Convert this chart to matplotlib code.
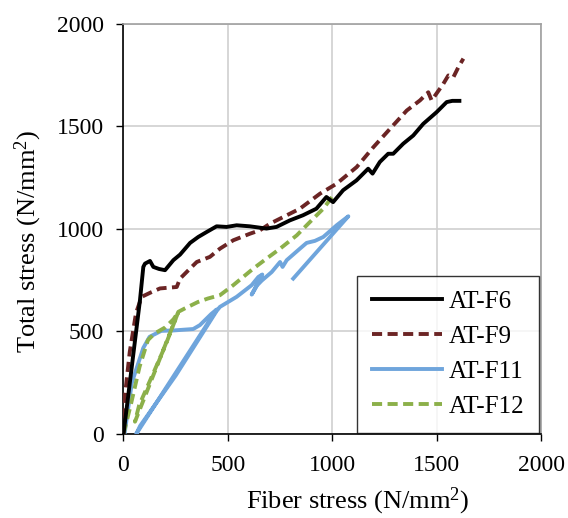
import matplotlib as mpl
import matplotlib.pyplot as plt

# values
f6_x = [0, 40, 79, 95, 103, 127, 143, 170, 199, 239, 271, 319, 358, 398, 446,
        494, 542, 605, 685, 733, 797, 860, 924, 972, 1004, 1052, 1116, 1172,
        1193, 1228, 1268, 1292, 1340, 1388, 1436, 1500, 1548, 1575, 1609]
f6_y = [0, 330, 653, 815, 831, 844, 815, 805, 799, 848, 875, 932, 961, 985, 1013,
        1010, 1018, 1013, 1002, 1010, 1042, 1067, 1099, 1156, 1131, 1189, 1237, 1294,
        1270, 1327, 1367, 1367, 1416, 1456, 1513, 1570, 1619, 1625, 1625]

f9_x = [0, 5, 30, 60, 87, 130, 175, 255, 271, 319, 351, 414, 462, 526, 606, 654,
        702, 798, 845, 941, 1021, 1117, 1197, 1277, 1357, 1420, 1460, 1476, 1532,
        1556, 1580, 1604, 1628]
f9_y = [0, 170, 400, 590, 669, 690, 710, 717, 758, 807, 839, 864, 904, 945, 977, 994,
        1026, 1075, 1099, 1172, 1221, 1302, 1399, 1489, 1578, 1627, 1667, 1627, 1708,
        1749, 1740, 1789, 1831]

f11_x = [5, 40, 95, 125, 181, 239, 334, 366, 420, 446, 61, 80, 250, 446, 462, 542,
         614, 646, 665, 614, 640, 662, 710, 750, 762, 782, 845, 877, 917, 957, 1021,
         1077, 813]
f11_y = [0, 250, 420, 474, 503, 505, 512, 531, 585, 607, 0, 40, 285, 600, 620, 669,
         726, 766, 778, 680, 725, 748, 790, 839, 815, 848, 904, 932, 942, 961, 1018,
         1062, 758]

f12_x = [0, 37, 77, 117, 149, 200, 240, 263, 55, 75, 140, 200, 263, 293, 357, 405,
         462, 526, 622, 686, 750, 830, 893, 957, 1005]
f12_y = [0, 151, 328, 458, 490, 520, 560, 596, 60, 140, 290, 430, 596, 612, 644, 661,
         677, 726, 807, 856, 904, 969, 1034, 1099, 1164]

mpl.rcParams.update({'font.size': 17, 'font.family': 'Liberation Serif',
                     'mathtext.fontset': 'custom',
                     'mathtext.rm': 'Liberation Serif',
                     'mathtext.it': 'Liberation Serif:italic'})

dpi = 100
fig = plt.figure(dpi=dpi, figsize=(568 / dpi, 518 / dpi))
ax = fig.add_axes([0.2174, 0.1622, 0.7351, 0.7915])

lw = 2.8
dash = (0, (2.6, 1.4))
ax.plot(f6_x, f6_y, color='black', lw=lw, label='AT-F6', zorder=5)
ax.plot(f9_x, f9_y, color='#6B2424', lw=lw, ls=dash, label='AT-F9', zorder=4)
ax.plot(f11_x, f11_y, color='#6FA5DC', lw=lw, label='AT-F11', zorder=3)
ax.plot(f12_x, f12_y, color='#8CB04A', lw=lw, ls=dash, label='AT-F12', zorder=3)

ax.set_xlim(0, 2000)
ax.set_ylim(0, 2000)
ax.set_xticks(range(0, 2001, 500))
ax.set_yticks(range(0, 2001, 500))
ax.grid(True, color='#D0D0D0', lw=1.2, zorder=0)
ax.set_axisbelow(True)
ax.tick_params(direction='out', length=5, width=1, colors='black', labelsize=17)
ax.tick_params(axis='x', pad=10)
ax.tick_params(axis='y', pad=9)
for s in ('top', 'right'):
    ax.spines[s].set_color('#A0A0A0')
    ax.spines[s].set_linewidth(1.2)
for s in ('left', 'bottom'):
    ax.spines[s].set_linewidth(1.2)

ax.set_xlabel('Fiber stress (N/mm$^2$)', fontsize=19)
ax.set_ylabel('Total stress (N/mm$^2$)', fontsize=19)
ax.xaxis.set_label_coords(0.562, -0.127)
ax.yaxis.set_label_coords(-0.19, 0.471)

leg = ax.legend(loc='lower right', bbox_to_anchor=(0.995, 0.002), frameon=True,
                fancybox=False, edgecolor='black', fontsize=18, handlelength=2.8,
                labelspacing=0.5, borderpad=0.6, handletextpad=0.25,
                borderaxespad=0)
leg.get_frame().set_linewidth(1.0)

fig.savefig('out.png')
